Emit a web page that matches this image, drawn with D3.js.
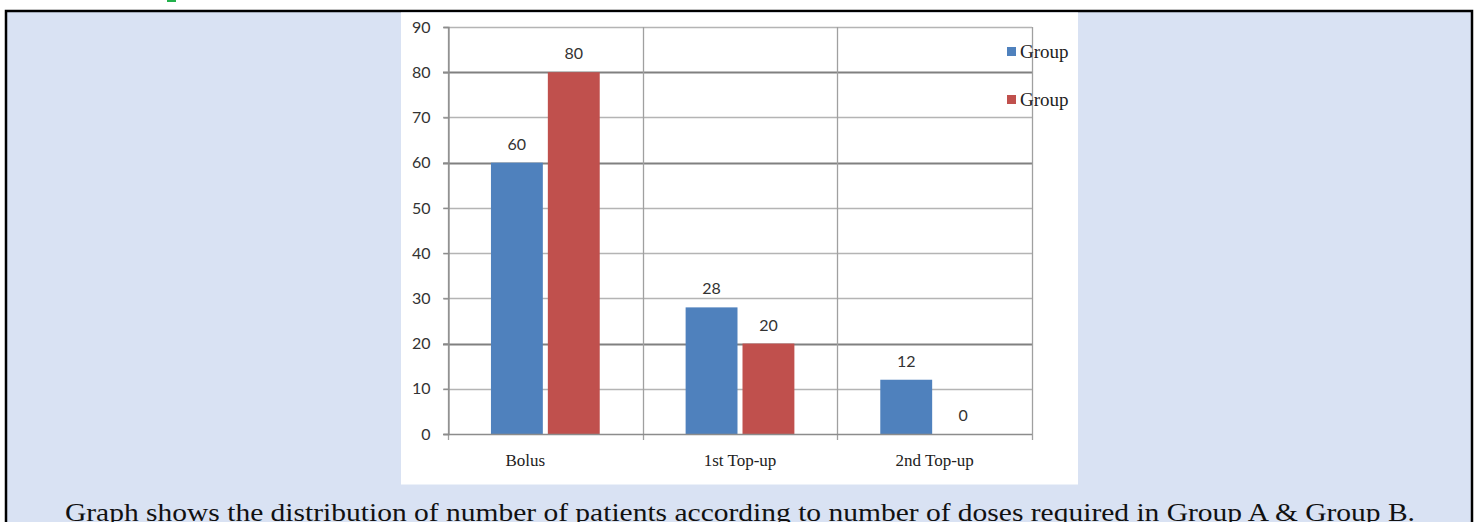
<!DOCTYPE html>
<html>
<head>
<meta charset="utf-8">
<script src="https://cdn.jsdelivr.net/npm/d3@7/dist/d3.min.js"></script>
<style>
  html, body { margin: 0; padding: 0; background: #ffffff; }
  svg { display: block; }
</style>
</head>
<body>
<svg id="chart" width="1480" height="522"></svg>
<script>
// Doses required per group
const categories = ["Bolus", "1st Top-up", "2nd Top-up"];
const seriesNames = ["Group", "Group"];
const groupA = [60, 28, 12];
const groupB = [80, 20, 0];
const yTicks = [0, 10, 20, 30, 40, 50, 60, 70, 80, 90];
const strongTicks = [20, 60, 80];
const caption = "Graph shows the distribution of number of patients according to number of doses required in Group A & Group B.";

const colors = ["#4f81bd", "#c0504d"];
const series = [groupA, groupB];

const svg = d3.select("#chart");

// page frame
svg.append("rect").attr("x", 0).attr("y", 0).attr("width", 1480).attr("height", 522).attr("fill", "#ffffff");
svg.append("rect").attr("x", 167).attr("y", 0).attr("width", 9).attr("height", 2).attr("fill", "#22b14c");
svg.append("rect").attr("x", 6).attr("y", 11).attr("width", 1466).attr("height", 520)
  .attr("fill", "#d9e2f3").attr("stroke", "#000").attr("stroke-width", 2.5);

// white chart panel
svg.append("rect").attr("x", 401).attr("y", 12.5).attr("width", 677).attr("height", 472).attr("fill", "#ffffff");

const plot = { left: 448, right: 1032, top: 27, bottom: 434 };

const x0 = d3.scaleBand().domain(categories).range([plot.left, plot.right]).paddingInner(0).paddingOuter(0);
const x1 = d3.scaleBand().domain([0, 1]).range([0, x0.bandwidth()]).paddingInner(0.088).paddingOuter(0.755);
const y = d3.scaleLinear().domain([0, 90]).range([plot.bottom, plot.top]);

const g = svg.append("g");

// horizontal gridlines
g.selectAll("line.hgrid").data(yTicks.filter(t => t > 0)).join("line")
  .attr("class", "hgrid")
  .attr("x1", plot.left - 5).attr("x2", plot.right)
  .attr("y1", d => Math.round(y(d)) + 0.5).attr("y2", d => Math.round(y(d)) + 0.5)
  .attr("stroke", d => strongTicks.includes(d) ? "#808080" : "#b4b4b4")
  .attr("stroke-width", d => strongTicks.includes(d) ? 2 : 1.3);

// vertical category separators
const bounds = categories.map(c => x0(c)).concat([plot.right]);
g.selectAll("line.vgrid").data(bounds).join("line")
  .attr("class", "vgrid")
  .attr("x1", d => Math.round(d) + 0.5).attr("x2", d => Math.round(d) + 0.5)
  .attr("y1", plot.top).attr("y2", plot.bottom + 6)
  .attr("stroke", "#a0a0a0").attr("stroke-width", 1.3);

// y axis
const yAxis = d3.axisLeft(y).tickValues(yTicks).tickSize(5).tickPadding(13);
const ya = g.append("g").attr("transform", `translate(${plot.left + 0.5},0)`).call(yAxis);
ya.select(".domain").attr("stroke", "#8c8c8c").attr("stroke-width", 1.3);
ya.selectAll(".tick line").attr("stroke", "#8c8c8c").attr("stroke-width", 1.3);
ya.selectAll(".tick text")
  .attr("font-family", "Lato, sans-serif").attr("font-size", 16).attr("fill", "#333");

// bars
const groups = g.selectAll("g.cat").data(categories).join("g")
  .attr("class", "cat").attr("transform", d => `translate(${x0(d)},0)`);

groups.selectAll("rect").data((d, i) => series.map((s, k) => ({ k, v: s[i] }))).join("rect")
  .attr("x", d => x1(d.k)).attr("width", x1.bandwidth())
  .attr("y", d => y(d.v)).attr("height", d => y(0) - y(d.v))
  .attr("fill", d => colors[d.k]);

groups.selectAll("text.val").data((d, i) => series.map((s, k) => ({ k, v: s[i] }))).join("text")
  .attr("class", "val")
  .attr("x", d => x1(d.k) + x1.bandwidth() / 2)
  .attr("y", d => y(d.v) - 13)
  .attr("text-anchor", "middle")
  .attr("font-family", "Lato, sans-serif").attr("font-size", 16).attr("fill", "#333")
  .text(d => d.v);

// x axis baseline
g.append("line").attr("x1", plot.left - 5).attr("x2", plot.right)
  .attr("y1", plot.bottom + 0.5).attr("y2", plot.bottom + 0.5)
  .attr("stroke", "#8c8c8c").attr("stroke-width", 1.3);

// category labels
g.selectAll("text.cat").data(categories).join("text")
  .attr("class", "cat")
  .attr("x", (d, i) => x0(d) + x0.bandwidth() / 2 - (i === 0 ? 20 : 0))
  .attr("y", 466)
  .attr("text-anchor", "middle")
  .attr("font-family", "Liberation Serif, serif").attr("font-size", 17).attr("fill", "#222")
  .text(d => d);

// legend
const legend = g.selectAll("g.leg").data(seriesNames).join("g")
  .attr("class", "leg").attr("transform", (d, i) => `translate(1007,${47 + i * 48})`);
legend.append("rect").attr("width", 9).attr("height", 9).attr("fill", (d, i) => colors[i]);
legend.append("text").attr("x", 13).attr("y", 11)
  .attr("font-family", "Liberation Serif, serif").attr("font-size", 19).attr("fill", "#222")
  .text(d => d);

// caption
svg.append("text").attr("x", 740).attr("y", 521).attr("text-anchor", "middle")
  .attr("font-family", "Liberation Serif, serif").attr("font-size", 26).attr("fill", "#111")
  .attr("textLength", 1350).attr("lengthAdjust", "spacingAndGlyphs")
  .text(caption);
</script>
</body>
</html>
